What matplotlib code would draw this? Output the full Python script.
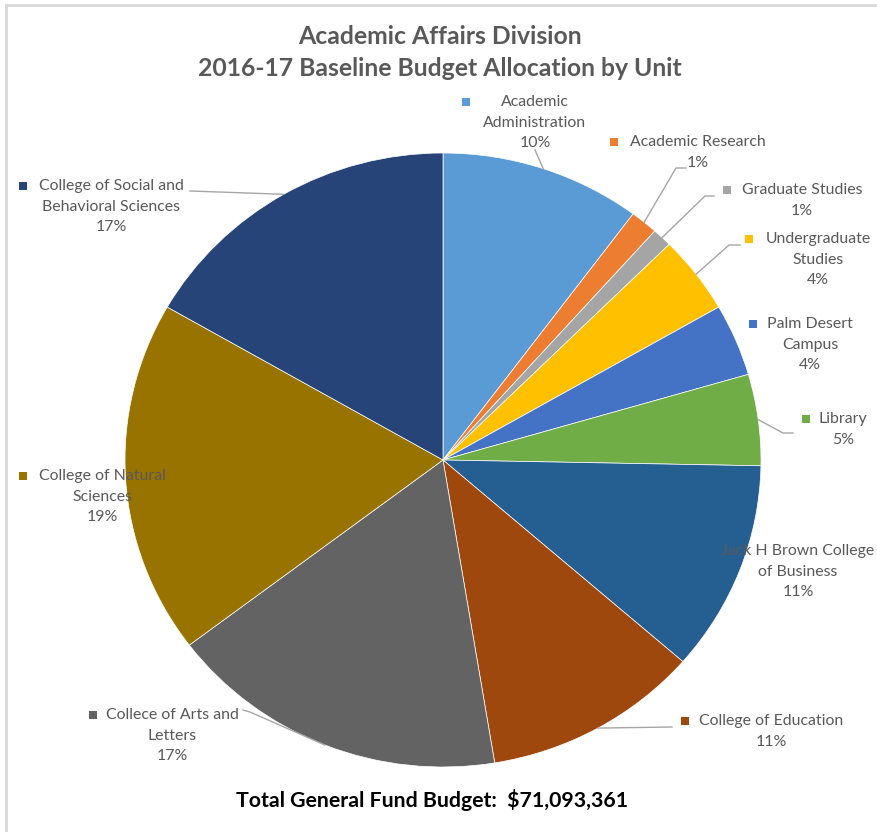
import numpy as np
import matplotlib
matplotlib.use("Agg")
import matplotlib.pyplot as plt
from matplotlib.patches import Rectangle

plt.rcParams['font.family'] = ['Lato', 'DejaVu Sans']

# data: share of the 2016-17 baseline budget (%), clockwise from 12 o'clock
units = ["Academic Administration", "Academic Research", "Graduate Studies",
         "Undergraduate Studies", "Palm Desert Campus", "Library",
         "Jack H Brown College of Business", "College of Education",
         "Collece of Arts and Letters", "College of Natural Sciences",
         "College of Social and Behavioral Sciences"]
label_lines = [["Academic", "Administration"], ["Academic Research"], ["Graduate Studies"],
               ["Undergraduate", "Studies"], ["Palm Desert", "Campus"], ["Library"],
               ["Jack H Brown College", "of Business"], ["College of Education"],
               ["Collece of Arts and", "Letters"], ["College of Natural", "Sciences"],
               ["College of Social and", "Behavioral Sciences"]]
shares = [10.2, 1.4, 1.0, 4.1, 3.8, 4.8, 11.1, 11.0, 17.3, 18.6, 16.7]
colors = ["#5B9BD5", "#ED7D31", "#A5A5A5", "#FFC000", "#4472C4", "#70AD47",
          "#255E91", "#9E480E", "#636363", "#997300", "#264478"]
total_budget = "$71,093,361"

# layout in image pixels (y measured from the top); the source image is a bit stretched
W, H = 878, 832
cx, cy, rx, ry = 443, 460, 318, 307
lab_x = [535, 698, 802, 818, 810, 843, 798, 771, 172, 102, 111]
lab_y = [102, 142, 190, 239, 324, 419, 551, 721, 715, 476, 186]
mark_x = [466, 614, 727, 749, 753, 806, 709, 685, 93, 23, 23]
elbows = [[(535, 150)], [(676, 168), (686, 168)], [(705, 196), (714, 196)],
          [(729, 245), (740, 245)], None, [(783, 433), (793, 433)], None,
          [(672, 727)], [(250, 712), (243, 710)], None, [(190, 191)]]
line_h = 20.7


def fy(y):
    # image pixel row -> data y
    return H - y


fig = plt.figure(figsize=(W / 100, H / 100), dpi=100)
pax = fig.add_axes([(cx - rx) / W, (H - cy - ry) / H, 2 * rx / W, 2 * ry / H])
wedges, _ = pax.pie(shares, colors=colors, startangle=90, counterclock=False,
                    radius=1, frame=True,
                    wedgeprops=dict(linewidth=0.5, edgecolor="white"))
pax.set_aspect("auto")
pax.set_xlim(-1, 1)
pax.set_ylim(-1, 1)
pax.axis("off")

ax = fig.add_axes([0, 0, 1, 1])
ax.set_xlim(0, W)
ax.set_ylim(0, H)
ax.axis("off")
ax.patch.set_alpha(0)

# frame lines along top and left
ax.plot([6, W], [fy(5), fy(5)], color="#D9D9D9", lw=2, clip_on=False)
ax.plot([6, 6], [fy(5), 0], color="#D9D9D9", lw=2, clip_on=False)

ax.text(440, fy(37), "Academic Affairs Division", ha="center", va="center",
        fontsize=17.8, fontweight="bold", color="#595959")
ax.text(440, fy(69), "2016-17 Baseline Budget Allocation by Unit", ha="center", va="center",
        fontsize=17.8, fontweight="bold", color="#595959")
ax.text(432, fy(800), "Total General Fund Budget:  " + total_budget, ha="center", va="center",
        fontsize=15.3, fontweight="bold", color="black")

for i, w in enumerate(wedges):
    lines = label_lines[i] + [f"{round(shares[i]):d}%"]
    for k, ln in enumerate(lines):
        ax.text(lab_x[i], fy(lab_y[i] + k * line_h), ln, ha="center", va="center",
                fontsize=11.4, color="#595959")
    ax.add_patch(Rectangle((mark_x[i] - 4, fy(lab_y[i]) - 4), 8, 8, color=colors[i], lw=0))
    if elbows[i] is not None:
        mid = np.deg2rad((w.theta1 + w.theta2) / 2)
        sx = cx + rx * np.cos(mid)
        sy = fy(cy) + ry * np.sin(mid)
        pts = [(sx, sy)] + [(p[0], fy(p[1])) for p in elbows[i]]
        ax.plot([p[0] for p in pts], [p[1] for p in pts], color="#A6A6A6", lw=1)

fig.savefig("out.png", dpi=100, facecolor="white")
